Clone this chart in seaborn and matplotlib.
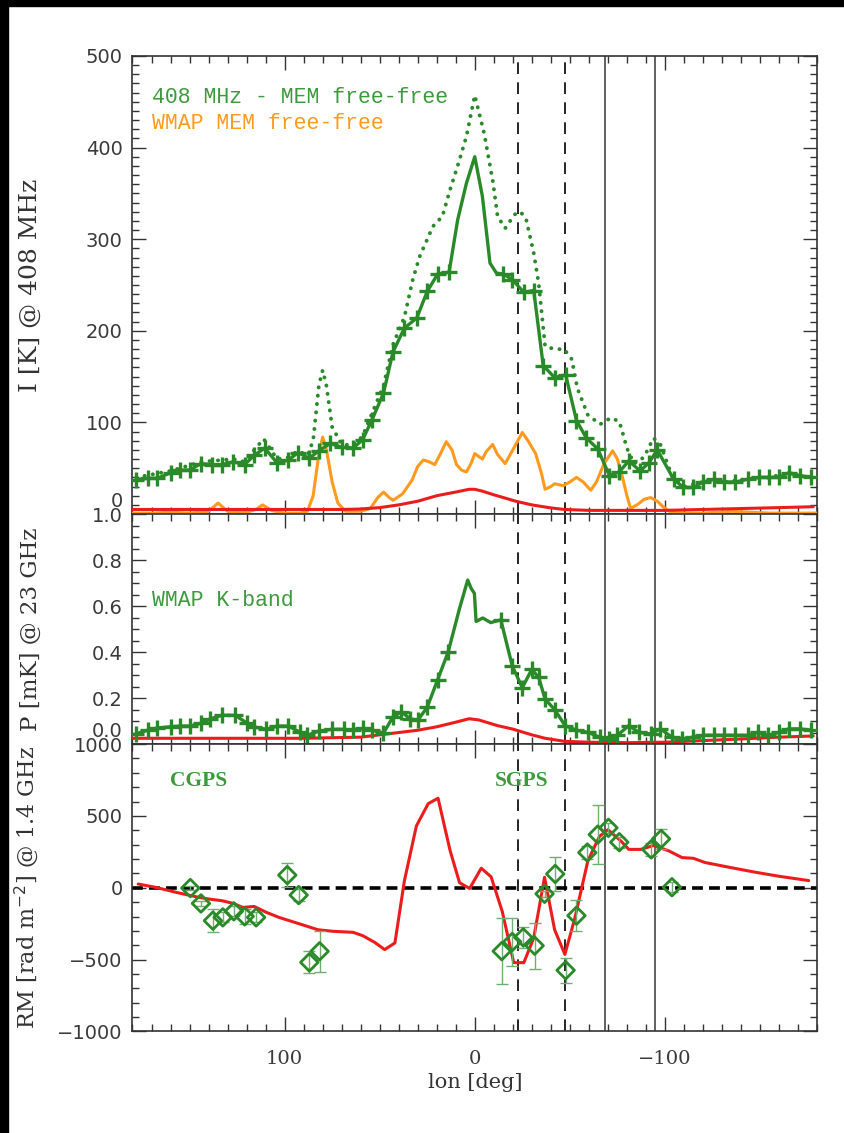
import numpy as np
import pandas as pd
import seaborn as sns
import matplotlib
matplotlib.use("Agg")
import matplotlib.pyplot as plt
from matplotlib.ticker import MultipleLocator, FormatStrFormatter
from matplotlib.patches import Rectangle
from matplotlib.transforms import ScaledTranslation

# ---------------- data ----------------
# top panel: 408 MHz minus MEM free-free (solid, + markers)
lon_408 = [178, 172, 167, 160, 155, 150, 144, 138, 133, 127, 121, 116, 110.5, 104, 98, 93, 87, 82, 76, 70,
           64, 59, 54, 48, 43, 37, 30.5, 25, 19.5, 13.5, 9, 4.4, 0, -4, -8, -11.4, -15, -19.7, -25.8, -31,
           -36, -42, -47.8, -53.5, -58.7, -64.7, -70.8, -76, -81, -87, -91.6, -96, -104.6, -109.7, -115,
           -120, -126, -131, -137, -143.5, -149.5, -155, -160, -165, -171, -177]
val_408 = [37, 39, 39, 45, 48, 48, 55, 54, 54, 57, 54, 64, 72, 56, 59, 67, 61, 69, 77, 73,
           72, 81, 103, 132, 177, 203, 214, 243, 262, 264, 321, 361, 390, 347, 274, 263, 262, 256, 242, 244,
           162, 149, 152, 102, 83, 71, 42, 46, 58, 47, 56, 70, 38, 29, 29,
           35, 38, 35, 35, 38, 40, 40, 40, 45, 42, 40]

# top panel: total 408 MHz (dotted)
lon_tot = [178, 160, 144, 127, 121, 116, 111, 104, 98, 93, 88, 85, 82, 80, 78, 75, 70, 64, 59, 54,
           48, 43, 37, 32.6, 29, 22, 17, 13, 9, 4.4, 0, -5, -9.6, -12, -16, -21, -24, -27, -31, -33.6,
           -37, -42, -47, -51, -54, -59.5, -66, -71.6, -76, -78, -80, -83.7, -89, -94, -97.6, -104, -110,
           -120, -131, -143, -155, -165, -177]
val_tot = [40, 47, 57, 60, 57, 70, 82, 60, 62, 69, 64, 80, 140, 157, 140, 95, 76, 75, 85, 110,
           140, 185, 215, 256, 281, 314, 325, 354, 380, 412, 457, 415, 362, 325, 312, 327, 330, 322, 285, 252,
           183, 180, 180, 169, 137, 108, 98, 105, 101, 87, 72, 55, 62, 83, 76, 40, 30,
           35, 35, 38, 40, 45, 40]

# top panel: WMAP MEM free-free (orange)
lon_ff = [180, 170, 160, 150, 140, 135, 130, 120, 115, 111.6, 107, 100, 92, 88, 85, 82, 80, 78, 75, 72,
          68, 60, 55, 51, 48, 45, 43, 38, 33, 30, 27, 24, 21, 18, 15, 12, 9.6, 7, 4.4, 2,
          0, -2, -4, -6, -9.4, -12, -16, -20, -25, -28, -32, -35, -37, -40, -42, -46.6, -50, -53.5, -57, -61,
          -64, -68, -72.5, -75, -77.7, -80, -82, -86, -89, -92.5, -96, -99, -103, -110, -120, -135, -145,
          -155, -165, -180]
val_ff = [1, 1, 2, 1, 3, 12, 3, 2, 5, 10, 4, 1, 1, 3, 20, 65, 84, 70, 35, 12,
          3, 3, 6, 18, 24, 18, 15, 22, 37, 52, 59, 57, 54, 66, 79, 70, 54, 48, 46, 55,
          66, 63, 60, 68, 76, 65, 55, 70, 89, 80, 66, 45, 27, 30, 33, 31, 35, 40, 35, 26,
          35, 55, 69, 60, 40, 20, 6, 11, 16, 18, 14, 8, 2, 1, 1, 3, 2,
          1, 1, 1]

# top panel: model (red)
lon_red1 = [180, 160, 140, 120, 100, 80, 70, 60, 50, 40, 30, 20, 10, 3, 0, -4, -10, -15, -21.5, -30,
            -39, -47, -60, -80, -100, -120, -140, -160, -178]
val_red1 = [5, 5, 5, 5, 5, 5, 5, 5.5, 7, 10, 14, 20, 24, 27, 27, 25, 21, 18, 14, 10,
            7, 5, 4, 4, 4, 5, 6, 7, 8]

# middle panel: WMAP K-band polarized intensity
lon_k = [178, 172, 167, 160, 155, 150, 144, 139, 133, 126, 120, 116, 109.6, 104, 98, 92, 88, 82, 75, 69,
         64, 59, 54, 48, 43, 38.6, 34, 30, 25, 19.5, 14, 8, 3.7, 1.9, 0.2, -0.7, -4.2, -8.4, -13.7, -19.7,
         -25, -30, -33.6, -37, -42, -47.5, -53.5, -59.5, -65.6, -70.8, -75, -81, -86.3, -92.5, -97.6,
         -103.7, -109, -115, -120, -126, -131, -137, -143.5, -148.7, -154, -160, -165, -171, -177]
val_k = [0.045, 0.06, 0.07, 0.075, 0.078, 0.078, 0.09, 0.11, 0.125, 0.125, 0.092, 0.074, 0.064, 0.078,
         0.078, 0.052, 0.038, 0.057, 0.064, 0.064, 0.06, 0.068, 0.06, 0.048, 0.118, 0.14, 0.11, 0.103,
         0.16, 0.28, 0.40, 0.59, 0.713, 0.677, 0.655, 0.533, 0.548, 0.528, 0.54, 0.34,
         0.245, 0.325, 0.29, 0.195, 0.15, 0.08, 0.06, 0.051, 0.03, 0.023, 0.038, 0.08, 0.051, 0.044, 0.066,
         0.03, 0.023, 0.03, 0.038, 0.038, 0.038, 0.038, 0.038, 0.051, 0.038, 0.051, 0.066, 0.066, 0.06]

lon_red2 = [180, 150, 120, 90, 60, 45, 30, 20, 10, 3, -2, -6, -12, -20, -30, -37, -47, -60, -80, -100,
            -120, -140, -160, -178]
val_red2 = [0.025, 0.025, 0.025, 0.025, 0.03, 0.045, 0.06, 0.075, 0.095, 0.11, 0.105, 0.095, 0.08,
            0.065, 0.04, 0.025, 0.012, 0.008, 0.006, 0.008, 0.015, 0.022, 0.03, 0.035]

# bottom panel: RM model (red) and measurements
lon_rm = [177, 167.5, 157, 145, 139.5, 133, 127, 122, 116, 109.6, 103, 92, 82.5, 74.6, 64, 59, 52.6, 47.4,
          42, 37, 30.7, 24.5, 19.3, 13, 8, 2.7, -3.4, -8.6, -14.5, -20.5, -25.8, -31, -36.7, -42, -47.4,
          -52.6, -59.5, -65.6, -70, -76.8, -81, -87.3, -94, -102, -109, -115, -121, -134, -148, -160, -175.6]
val_rm = [26, 2, -32, -67, -79, -90, -109, -137, -130, -171, -206, -252, -292, -303, -310, -333, -380, -430,
          -384, 49, 430, 585, 623, 260, 35, -5, 136, 76, -167, -521, -521, -350, 73, -292, -464,
          -213, 188, 358, 404, 326, 267, 267, 294, 257, 210, 205, 176, 142, 107, 80, 50]

lon_obs = [149.6, 144, 137.7, 132.5, 126.7, 121, 115, 98.6, 92.6, 87, 81.6,
           -14.2, -19.7, -25.5, -31.5, -36.7, -42.3, -47.8, -53.5, -59.2, -64.7, -70.3, -76, -92.8, -98, -103.7]
rm_obs = [-2, -109, -229, -206, -164, -199, -206, 88, -51, -519, -442,
          -441, -377, -345, -403, -42, 96, -574, -194, 245, 370, 417, 317, 267, 340, 4]
rm_err = [15, 20, 81, 35, 35, 52, 35, 83, 44, 76, 142,
          228, 165, 74, 160, 20, 121, 86, 108, 48, 206, 35, 38, 46, 71, 35]

dashed_lons = [-22.5, -47.5]
solid_lons = [-68.5, -95]

xticks_major = [100, 0, -100]
yticks_top = [0, 100, 200, 300, 400, 500]
yticks_mid = [0.0, 0.2, 0.4, 0.6, 0.8, 1.0]
yticks_bot = [-1000, -500, 0, 500, 1000]

# ---------------- style ----------------
sns.set_theme(style="ticks")
plt.rcParams["font.family"] = ["DejaVu Sans"]

GREEN = "#2a8a2a"
GREEN_T = "#3c9a3c"
ORANGE = "#ff9a1e"
RED = "#ec1c1c"
AXC = "#333333"

fig = plt.figure(figsize=(8.45, 11.33), dpi=100)
fig.patch.set_facecolor("white")
L, W = 0.1568, 0.8101
ax1 = fig.add_axes([L, 0.5463, W, 0.4043])
ax2 = fig.add_axes([L, 0.3433, W, 0.2030], sharex=ax1)
ax3 = fig.add_axes([L, 0.0896, W, 0.2537], sharex=ax1)

# ---------------- top panel ----------------
d408 = pd.DataFrame({"lon": lon_408, "val": val_408})
dtot = pd.DataFrame({"lon": lon_tot, "val": val_tot})
dff = pd.DataFrame({"lon": lon_ff, "val": val_ff})
dr1 = pd.DataFrame({"lon": lon_red1, "val": val_red1})

sns.lineplot(data=dtot, x="lon", y="val", ax=ax1, sort=False, estimator=None, color=GREEN,
             lw=2.8, ls=(0, (0.05, 2.1)), dash_capstyle="round", zorder=3)
sns.lineplot(data=dff, x="lon", y="val", ax=ax1, sort=False, estimator=None, color=ORANGE,
             lw=2.2, zorder=4)
sns.lineplot(data=dr1, x="lon", y="val", ax=ax1, sort=False, estimator=None, color=RED,
             lw=2.2, zorder=5)
mark408 = list(np.abs(np.array(lon_408)) > 12)
sns.lineplot(data=d408, x="lon", y="val", ax=ax1, sort=False, estimator=None, color=GREEN,
             lw=2.4, marker="+", markersize=11, mew=2.4, mec=GREEN, markevery=mark408, zorder=6)

# ---------------- middle panel ----------------
dk = pd.DataFrame({"lon": lon_k, "val": val_k})
dr2 = pd.DataFrame({"lon": lon_red2, "val": val_red2})
sns.lineplot(data=dr2, x="lon", y="val", ax=ax2, sort=False, estimator=None, color=RED,
             lw=2.2, zorder=5)
markk = list(np.abs(np.array(lon_k)) > 12)
sns.lineplot(data=dk, x="lon", y="val", ax=ax2, sort=False, estimator=None, color=GREEN,
             lw=2.4, marker="+", markersize=11, mew=2.4, mec=GREEN, markevery=markk, zorder=6)

# ---------------- bottom panel ----------------
drm = pd.DataFrame({"lon": lon_rm, "val": val_rm})
dobs = pd.DataFrame({"lon": lon_obs, "rm": rm_obs, "err": rm_err})
ax3.axhline(0, color="black", lw=2.6, ls=(0, (3.0, 1.7)), zorder=2)
sns.lineplot(data=drm, x="lon", y="val", ax=ax3, sort=False, estimator=None, color=RED,
             lw=2.2, zorder=4)
ax3.errorbar(dobs["lon"], dobs["rm"], yerr=dobs["err"], fmt="none", ecolor="#6fae6f",
             elinewidth=1.0, capsize=4.5, capthick=1.0, zorder=5)
sns.scatterplot(data=dobs, x="lon", y="rm", ax=ax3, marker="D", s=80, facecolor="none",
                edgecolor=GREEN, linewidth=2.0, zorder=6)

# ---------------- vertical reference lines ----------------
for ax in (ax1, ax2, ax3):
    for v in dashed_lons:
        ax.axvline(v, color="black", lw=1.2, ls=(0, (7, 5)), zorder=1)
    for v in solid_lons:
        ax.axvline(v, color="#555555", lw=1.3, zorder=1)

# ---------------- axes formatting ----------------
for ax in (ax1, ax2, ax3):
    ax.set_xlim(180, -180)
    ax.xaxis.set_major_locator(MultipleLocator(100))
    ax.xaxis.set_minor_locator(MultipleLocator(10))
    ax.tick_params(which="both", direction="in", top=True, right=True, colors=AXC,
                   labelcolor="#3a3a3a", labelsize=14, width=1.0)
    ax.tick_params(which="major", length=10)
    ax.tick_params(which="minor", length=5)
    ax.tick_params(axis="y", pad=7)
    for s in ax.spines.values():
        s.set_color(AXC)
        s.set_linewidth(1.2)
    ax.set_xlabel("")
    ax.set_ylabel("")
    ax.set_facecolor("white")

ax1.set_ylim(0, 500)
ax1.set_yticks(yticks_top)
ax1.yaxis.set_minor_locator(MultipleLocator(10))
ax2.set_ylim(0, 1.0)
ax2.set_yticks(yticks_mid)
ax2.yaxis.set_minor_locator(MultipleLocator(0.05))
ax2.yaxis.set_major_formatter(FormatStrFormatter("%.1f"))
ax3.set_ylim(-1000, 1000)
ax3.set_yticks(yticks_bot)
ax3.yaxis.set_minor_locator(MultipleLocator(100))

# nudge the labels that meet at the panel boundaries apart
up = ScaledTranslation(0, 2.5 / 72, fig.dpi_scale_trans)
down = ScaledTranslation(0, -2.5 / 72, fig.dpi_scale_trans)


def nudge(ax, loc, va, off):
    for t in ax.yaxis.get_major_ticks():
        if np.isclose(t.get_loc(), loc):
            t.label1.set_va(va)
            t.label1.set_transform(t.label1.get_transform() + off)


nudge(ax1, 0, "bottom", up)
nudge(ax2, 1.0, "top", down)
nudge(ax2, 0.0, "bottom", up)
nudge(ax3, 1000, "top", down)

ax1.tick_params(labelbottom=False)
ax2.tick_params(labelbottom=False)
ax3.set_xticks(xticks_major)
ax3.tick_params(axis="x", pad=13)
for lab in ax3.get_xticklabels():
    lab.set_fontfamily("DejaVu Serif")

ax3.set_xlabel("lon [deg]", fontsize=15, family="DejaVu Serif", color="#333333", labelpad=4)

ax1.set_ylabel("I [K] @ 408 MHz", fontsize=18, family="DejaVu Serif", color="#333333")
ax2.set_ylabel("P [mK] @ 23 GHz", fontsize=16.5, family="DejaVu Serif", color="#333333")
ax3.set_ylabel("RM [rad m$^{-2}$] @ 1.4 GHz", fontsize=16, family="DejaVu Serif", color="#333333")
for ax in (ax1, ax2, ax3):
    ax.yaxis.set_label_coords(-0.133, 0.5)

# ---------------- in-panel labels ----------------
ax1.text(0.0285, 0.91, "408 MHz - MEM free-free", transform=ax1.transAxes, color=GREEN_T,
         fontsize=15.5, family="Liberation Mono", va="center", ha="left")
ax1.text(0.0285, 0.852, "WMAP MEM free-free", transform=ax1.transAxes, color=ORANGE,
         fontsize=15.5, family="Liberation Mono", va="center", ha="left")
ax2.text(0.0285, 0.622, "WMAP K-band", transform=ax2.transAxes, color=GREEN_T,
         fontsize=15.5, family="Liberation Mono", va="center", ha="left")
ax3.text(0.055, 0.871, "CGPS", transform=ax3.transAxes, color=GREEN_T, fontsize=15.5,
         family="Liberation Serif", weight="bold", va="center", ha="left")
ax3.text(0.53, 0.871, "SGPS", transform=ax3.transAxes, color=GREEN_T, fontsize=15.5,
         family="Liberation Serif", weight="bold", va="center", ha="left")

# black frame strips (left and top edges of the reference image)
fig.patches.append(Rectangle((0, 0), 8 / 845, 1, transform=fig.transFigure, color="black", zorder=10))
fig.patches.append(Rectangle((0, 1 - 6 / 1133), 1, 6 / 1133, transform=fig.transFigure, color="black",
                             zorder=10))

fig.savefig("out.png", dpi=100, facecolor="white")
